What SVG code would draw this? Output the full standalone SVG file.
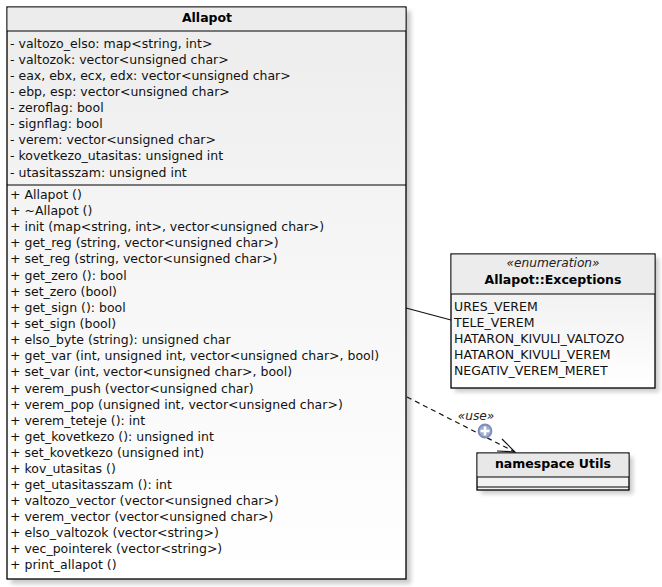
<svg xmlns="http://www.w3.org/2000/svg" width="662" height="587" viewBox="0 0 662 587">
<defs>
<linearGradient id="body" x1="0" y1="0" x2="0" y2="1">
<stop offset="0" stop-color="#ececec"/>
<stop offset="0.35" stop-color="#f4f4f4"/>
<stop offset="1" stop-color="#ffffff"/>
</linearGradient>
<linearGradient id="body2" x1="0" y1="0" x2="0" y2="1">
<stop offset="0" stop-color="#ececec"/>
<stop offset="1" stop-color="#ffffff"/>
</linearGradient>
<filter id="sh" x="-10%" y="-10%" width="130%" height="130%">
<feGaussianBlur stdDeviation="2"/>
</filter>
</defs>
<style>
.box{stroke:#000;stroke-width:1.3;}
.sep{stroke:#000;stroke-width:1.2;}
.t{font-family:"DejaVu Sans",Verdana,sans-serif;font-size:12.5px;fill:#111;}
.b{font-family:"DejaVu Sans",Verdana,sans-serif;font-size:12.5px;font-weight:bold;fill:#000;}
.i{font-family:"DejaVu Sans",Verdana,sans-serif;font-size:12.2px;font-style:italic;fill:#222;}
.shadow{fill:#999;opacity:0.5;filter:url(#sh);}
.conn{stroke:#111;stroke-width:1.2;fill:none;}
</style>
<rect width="662" height="587" fill="#fff"/>

<g id="Allapot">
<rect class="shadow" x="11" y="11" width="400" height="573"/>
<rect class="box" x="7" y="7" width="399" height="572" fill="url(#body)"/>
<rect x="7.6" y="7.6" width="397.8" height="23.4" fill="#ececec"/>
<line class="sep" x1="7" y1="31" x2="406" y2="31"/>
<line class="sep" x1="7" y1="185" x2="406" y2="185"/>
<text class="b" x="207" y="21.5" text-anchor="middle">Allapot</text>
<text class="t" x="10" y="48">- valtozo_elso: map&lt;string, int&gt;</text>
<text class="t" x="10" y="64">- valtozok: vector&lt;unsigned char&gt;</text>
<text class="t" x="10" y="80">- eax, ebx, ecx, edx: vector&lt;unsigned char&gt;</text>
<text class="t" x="10" y="96">- ebp, esp: vector&lt;unsigned char&gt;</text>
<text class="t" x="10" y="112">- zeroflag: bool</text>
<text class="t" x="10" y="128">- signflag: bool</text>
<text class="t" x="10" y="144">- verem: vector&lt;unsigned char&gt;</text>
<text class="t" x="10" y="160">- kovetkezo_utasitas: unsigned int</text>
<text class="t" x="10" y="176.5">- utasitasszam: unsigned int</text>
<text class="t" x="10" y="199">+ Allapot ()</text>
<text class="t" x="10" y="215">+ ~Allapot ()</text>
<text class="t" x="10" y="231">+ init (map&lt;string, int&gt;, vector&lt;unsigned char&gt;)</text>
<text class="t" x="10" y="247">+ get_reg (string, vector&lt;unsigned char&gt;)</text>
<text class="t" x="10" y="263">+ set_reg (string, vector&lt;unsigned char&gt;)</text>
<text class="t" x="10" y="280">+ get_zero (): bool</text>
<text class="t" x="10" y="296">+ set_zero (bool)</text>
<text class="t" x="10" y="312">+ get_sign (): bool</text>
<text class="t" x="10" y="328">+ set_sign (bool)</text>
<text class="t" x="10" y="344">+ elso_byte (string): unsigned char</text>
<text class="t" x="10" y="360">+ get_var (int, unsigned int, vector&lt;unsigned char&gt;, bool)</text>
<text class="t" x="10" y="376">+ set_var (int, vector&lt;unsigned char&gt;, bool)</text>
<text class="t" x="10" y="392.5">+ verem_push (vector&lt;unsigned char)</text>
<text class="t" x="10" y="408.5">+ verem_pop (unsigned int, vector&lt;unsigned char&gt;)</text>
<text class="t" x="10" y="424.5">+ verem_teteje (): int</text>
<text class="t" x="10" y="440.5">+ get_kovetkezo (): unsigned int</text>
<text class="t" x="10" y="456.5">+ set_kovetkezo (unsigned int)</text>
<text class="t" x="10" y="472.5">+ kov_utasitas ()</text>
<text class="t" x="10" y="488.5">+ get_utasitasszam (): int</text>
<text class="t" x="10" y="504.5">+ valtozo_vector (vector&lt;unsigned char&gt;)</text>
<text class="t" x="10" y="520.5">+ verem_vector (vector&lt;unsigned char&gt;)</text>
<text class="t" x="10" y="536.5">+ elso_valtozok (vector&lt;string&gt;)</text>
<text class="t" x="10" y="552.5">+ vec_pointerek (vector&lt;string&gt;)</text>
<text class="t" x="10" y="569">+ print_allapot ()</text>
</g>

<g id="Exceptions">
<rect class="shadow" x="455" y="258" width="204" height="134"/>
<rect class="box" x="451" y="254" width="204" height="134" fill="url(#body2)"/>
<rect x="451.6" y="254.6" width="202.8" height="39.4" fill="#ececec"/>
<line class="sep" x1="451" y1="294" x2="655" y2="294"/>
<text class="i" x="553" y="267" text-anchor="middle">«enumeration»</text>
<text class="b" x="553" y="284" text-anchor="middle">Allapot::Exceptions</text>
<text class="t" x="454" y="311">URES_VEREM</text>
<text class="t" x="454" y="327">TELE_VEREM</text>
<text class="t" x="454" y="343">HATARON_KIVULI_VALTOZO</text>
<text class="t" x="454" y="359">HATARON_KIVULI_VEREM</text>
<text class="t" x="454" y="375">NEGATIV_VEREM_MERET</text>
</g>

<g id="Utils">
<rect class="shadow" x="481" y="457" width="152" height="37"/>
<rect class="box" x="477" y="453" width="152" height="37" fill="#f2f2f2"/>
<rect x="477.6" y="453.6" width="150.8" height="23.4" fill="#e8e8e8"/>
<line class="sep" x1="477" y1="477" x2="629" y2="477"/>
<line class="sep" x1="477" y1="487" x2="629" y2="487"/>
<text class="b" x="553" y="467.5" text-anchor="middle">namespace Utils</text>
</g>

<g id="connectors">
<line class="conn" x1="406" y1="308" x2="451" y2="320"/>
<line class="conn" x1="407" y1="397" x2="515" y2="452" stroke-dasharray="5,4"/>
<polyline class="conn" points="502,439 515,452 497,451"/>
<circle cx="485" cy="431" r="6.5" fill="#9eabcf" stroke="#7d8db8" stroke-width="1.8"/>
<line x1="480.5" y1="431" x2="489.5" y2="431" stroke="#fff" stroke-width="2.6"/>
<line x1="485" y1="426.5" x2="485" y2="435.5" stroke="#fff" stroke-width="2.6"/>
<text class="i" x="476" y="420" text-anchor="middle">«use»</text>
</g>
</svg>
